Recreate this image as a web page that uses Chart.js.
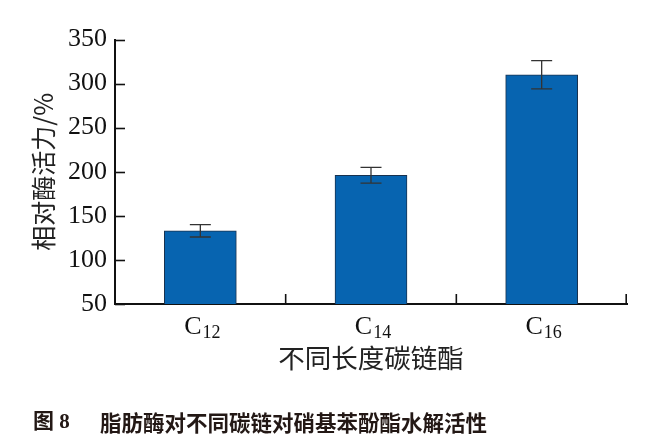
<!DOCTYPE html>
<html>
<head>
<meta charset="utf-8">
<script src="https://cdn.jsdelivr.net/npm/chart.js@4/dist/chart.umd.min.js"></script>
<style>
  html, body { margin: 0; padding: 0; background: #fff; }
  #wrap { width: 660px; height: 442px; }
</style>
</head>
<body>
<div id="wrap"><canvas id="c" width="660" height="442"></canvas></div>
<script>
// ---- data ----
const categories = ['C12', 'C14', 'C16'];
const values = [133, 196, 310];
const errors = [7, 9, 16];
const yMin = 50;
const yMax = 350;
const yStep = 50;
const yTitle = '相对酶活力/%';
const xTitle = '不同长度碳链酯';
const figLabel = '图 8';
const figCaption = '脂肪酶对不同碳链对硝基苯酚酯水解活性';

const serif = "'Liberation Serif', 'DejaVu Serif', serif";
const cjk = "'Noto Sans CJK SC', 'Noto Sans', sans-serif";

const decorPlugin = {
  id: 'decor',
  afterDatasetsDraw(chart) {
    const ctx = chart.ctx;
    const y = chart.scales.y;
    const meta = chart.getDatasetMeta(0);
    ctx.save();
    // error bars
    ctx.strokeStyle = '#333';
    ctx.lineWidth = 1.3;
    meta.data.forEach((bar, i) => {
      const cx = bar.x;
      const yt = y.getPixelForValue(values[i] + errors[i]);
      const yb = y.getPixelForValue(values[i] - errors[i]);
      const cap = 10.5;
      ctx.beginPath();
      ctx.moveTo(cx, yt); ctx.lineTo(cx, yb);
      ctx.moveTo(cx - cap, yt); ctx.lineTo(cx + cap, yt);
      ctx.moveTo(cx - cap, yb); ctx.lineTo(cx + cap, yb);
      ctx.stroke();
    });
    ctx.restore();
  },
  afterDraw(chart) {
    const ctx = chart.ctx;
    const x = chart.scales.x, y = chart.scales.y;
    const area = chart.chartArea;
    ctx.save();
    // inward y ticks
    ctx.strokeStyle = '#111';
    ctx.lineWidth = 1.6;
    for (let v = yMin; v <= yMax; v += yStep) {
      const py = Math.round(y.getPixelForValue(v)) + 0.5;
      ctx.beginPath();
      ctx.moveTo(area.left, py);
      ctx.lineTo(area.left + 10, py);
      ctx.stroke();
    }
    // x category separator ticks (pointing up)
    const bounds = [];
    for (let i = 0; i < categories.length - 1; i++) {
      bounds.push((x.getPixelForValue(i) + x.getPixelForValue(i + 1)) / 2);
    }
    bounds.push(area.right - 0.8);
    bounds.forEach(bx => {
      ctx.beginPath();
      ctx.moveTo(bx, area.bottom);
      ctx.lineTo(bx, area.bottom - 10);
      ctx.stroke();
    });
    // x tick labels with subscripts
    ctx.fillStyle = '#111';
    ctx.textBaseline = 'alphabetic';
    categories.forEach((lab, i) => {
      const m = lab.match(/^([A-Za-z]+)(\d*)$/);
      const base = m ? m[1] : lab;
      const sub = m ? m[2] : '';
      ctx.font = '26px ' + serif;
      const wb = ctx.measureText(base).width;
      ctx.font = '18px ' + serif;
      const ws = ctx.measureText(sub).width;
      const total = wb + 1 + ws;
      const cx = x.getPixelForValue(i) + 2;
      const sx = cx - total / 2;
      ctx.font = '26px ' + serif;
      ctx.textAlign = 'left';
      ctx.fillText(base, sx, 334);
      ctx.font = '18px ' + serif;
      ctx.fillText(sub, sx + wb + 1, 338);
    });
    // caption
    ctx.fillStyle = '#231815';
    ctx.textAlign = 'left';
    ctx.textBaseline = 'middle';
    ctx.font = 'bold 21px ' + serif + ', ' + cjk;
    ctx.fillText(figLabel, 33, 423);
    ctx.font = 'bold 21.5px ' + cjk;
    ctx.fillText(figCaption, 100, 423);
    ctx.restore();
  }
};

new Chart(document.getElementById('c'), {
  type: 'bar',
  data: {
    labels: categories,
    datasets: [{
      data: values,
      backgroundColor: '#0764B0',
      borderColor: '#18324f',
      borderWidth: 1,
      barThickness: 72
    }]
  },
  options: {
    responsive: false,
    animation: false,
    events: [],
    layout: { padding: { top: 39.5, right: 33, bottom: 0, left: 0 } },
    plugins: { legend: { display: false }, tooltip: { enabled: false }, title: { display: false } },
    scales: {
      x: {
        offset: true,
        grid: { display: false, drawTicks: false },
        border: { display: true, color: '#111', width: 2 },
        ticks: { display: false },
        title: {
          display: true, text: xTitle, color: '#222',
          font: { family: cjk, size: 26.5 },
          padding: { top: 0, bottom: 68.5 }
        },
        afterFit(scale) { scale.height = 138; }
      },
      y: {
        min: yMin, max: yMax, beginAtZero: false,
        grid: { display: false, drawTicks: false },
        border: { display: true, color: '#111', width: 2 },
        ticks: {
          stepSize: yStep, padding: 8, color: '#111',
          font: { family: serif, size: 26 }
        },
        title: {
          display: true, text: yTitle, color: '#222',
          font: { family: cjk, size: 25 },
          padding: { top: 28.5, bottom: 0 }
        },
        afterFit(scale) { scale.width = 115; }
      }
    }
  },
  plugins: [decorPlugin]
});
</script>
</body>
</html>
